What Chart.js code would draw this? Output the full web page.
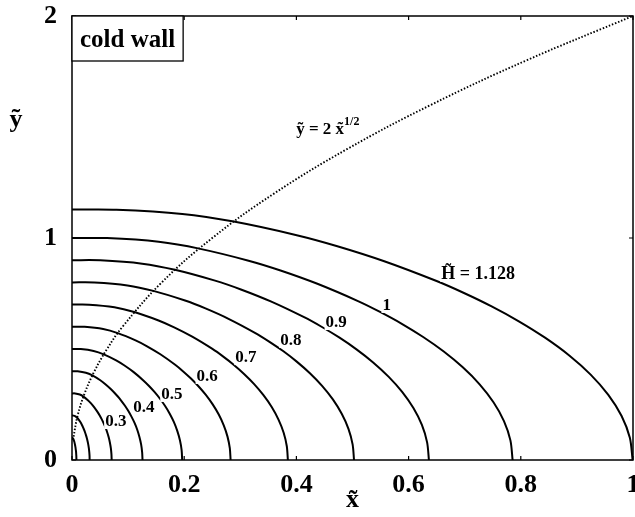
<!DOCTYPE html>
<html>
<head>
<meta charset="utf-8">
<script src="https://cdn.jsdelivr.net/npm/chart.js@4.4.1/dist/chart.umd.min.js"></script>
<style>
  html, body { margin: 0; padding: 0; background: #fff; }
  #wrap { width: 635px; height: 517px; position: relative; }
</style>
</head>
<body>
<div id="wrap"><canvas id="c" width="635" height="517"></canvas></div>
<script>
// Contour levels (H~) and their curves
const levels = [1.128, 1, 0.9, 0.8, 0.7, 0.6, 0.5, 0.4, 0.3, 0.2, 0.1];

const x_1128 = [0, 0.0794, 0.1966, 0.2883, 0.4006, 0.4730, 0.5566, 0.6499, 0.6987, 0.7480, 0.7965, 0.8432, 0.8864, 0.9245, 0.9560, 0.9797, 0.9944, 0.9993];
const y_1128 = [1.128, 1.1274, 1.1086, 1.0740, 1.0126, 0.9629, 0.8953, 0.8062, 0.7523, 0.6919, 0.6248, 0.5509, 0.4707, 0.3846, 0.2933, 0.1980, 0.0997, 0];

const x_100 = [0, 0.0624, 0.1545, 0.2266, 0.3148, 0.3717, 0.4374, 0.5108, 0.5491, 0.5879, 0.6260, 0.6627, 0.6966, 0.7266, 0.7513, 0.7700, 0.7815, 0.7854];
const y_100 = [1, 0.9995, 0.9828, 0.9521, 0.8977, 0.8536, 0.7937, 0.7147, 0.6669, 0.6134, 0.5539, 0.4884, 0.4173, 0.3410, 0.2600, 0.1755, 0.0884, 0];

const x_090 = [0, 0.0505, 0.1251, 0.1835, 0.2550, 0.3011, 0.3543, 0.4137, 0.4448, 0.4762, 0.5071, 0.5368, 0.5642, 0.5885, 0.6086, 0.6237, 0.6330, 0.6362];
const y_090 = [0.9, 0.8996, 0.8845, 0.8569, 0.8079, 0.7682, 0.7143, 0.6432, 0.6002, 0.5521, 0.4985, 0.4396, 0.3756, 0.3069, 0.2340, 0.1580, 0.0796, 0];

const x_080 = [0, 0.0399, 0.0989, 0.1450, 0.2015, 0.2379, 0.2799, 0.3269, 0.3514, 0.3763, 0.4006, 0.4241, 0.4458, 0.4650, 0.4808, 0.4928, 0.5002, 0.5027];
const y_080 = [0.8, 0.7996, 0.7862, 0.7617, 0.7182, 0.6829, 0.6350, 0.5718, 0.5335, 0.4907, 0.4431, 0.3907, 0.3338, 0.2728, 0.2080, 0.1404, 0.0707, 0];

const x_070 = [0, 0.0306, 0.0757, 0.1110, 0.1543, 0.1821, 0.2143, 0.2503, 0.2691, 0.2881, 0.3067, 0.3247, 0.3413, 0.3560, 0.3681, 0.3773, 0.3829, 0.3848];
const y_070 = [0.7, 0.6997, 0.6880, 0.6665, 0.6284, 0.5975, 0.5556, 0.5003, 0.4668, 0.4294, 0.3877, 0.3419, 0.2921, 0.2387, 0.1820, 0.1229, 0.0619, 0];

const x_060 = [0, 0.0225, 0.0556, 0.0816, 0.1133, 0.1338, 0.1575, 0.1839, 0.1977, 0.2116, 0.2254, 0.2386, 0.2508, 0.2616, 0.2705, 0.2772, 0.2813, 0.2827];
const y_060 = [0.6, 0.5997, 0.5897, 0.5713, 0.5386, 0.5122, 0.4762, 0.4288, 0.4001, 0.3680, 0.3323, 0.2930, 0.2504, 0.2046, 0.1560, 0.1053, 0.0530, 0];

const x_050 = [0, 0.0156, 0.0386, 0.0567, 0.0787, 0.0929, 0.1094, 0.1277, 0.1373, 0.1470, 0.1565, 0.1657, 0.1742, 0.1817, 0.1878, 0.1925, 0.1954, 0.1964];
const y_050 = [0.5, 0.4998, 0.4914, 0.4761, 0.4489, 0.4268, 0.3969, 0.3574, 0.3335, 0.3067, 0.2770, 0.2442, 0.2087, 0.1705, 0.1300, 0.0878, 0.0442, 0];

const x_040 = [0, 0.0100, 0.0247, 0.0363, 0.0504, 0.0595, 0.0700, 0.0817, 0.0879, 0.0941, 0.1002, 0.1060, 0.1115, 0.1163, 0.1202, 0.1232, 0.1250, 0.1257];
const y_040 = [0.4, 0.3998, 0.3931, 0.3808, 0.3591, 0.3414, 0.3175, 0.2859, 0.2668, 0.2454, 0.2216, 0.1954, 0.1669, 0.1364, 0.1040, 0.0702, 0.0354, 0];

const x_030 = [0, 0.0056, 0.0139, 0.0204, 0.0283, 0.0335, 0.0394, 0.0460, 0.0494, 0.0529, 0.0563, 0.0596, 0.0627, 0.0654, 0.0676, 0.0693, 0.0703, 0.0707];
const y_030 = [0.3, 0.2999, 0.2948, 0.2856, 0.2693, 0.2561, 0.2381, 0.2144, 0.2001, 0.1840, 0.1662, 0.1465, 0.1252, 0.1023, 0.0780, 0.0527, 0.0265, 0];

const x_020 = [0, 0.0025, 0.0062, 0.0091, 0.0126, 0.0149, 0.0175, 0.0204, 0.0220, 0.0235, 0.0250, 0.0265, 0.0279, 0.0291, 0.0301, 0.0308, 0.0313, 0.0314];
const y_020 = [0.2, 0.1999, 0.1966, 0.1904, 0.1795, 0.1707, 0.1587, 0.1429, 0.1334, 0.1227, 0.1108, 0.0977, 0.0835, 0.0682, 0.0520, 0.0351, 0.0177, 0];

const x_010 = [0, 0.0006, 0.0015, 0.0023, 0.0031, 0.0037, 0.0044, 0.0051, 0.0055, 0.0059, 0.0063, 0.0066, 0.0070, 0.0073, 0.0075, 0.0077, 0.0078, 0.0079];
const y_010 = [0.1, 0.1, 0.0983, 0.0952, 0.0898, 0.0854, 0.0794, 0.0715, 0.0667, 0.0613, 0.0554, 0.0488, 0.0417, 0.0341, 0.0260, 0.0176, 0.0088, 0];

// Dotted boundary curve y~ = 2 x~^(1/2)
const x_dot = [0.002, 0.0025, 0.01, 0.0225, 0.04, 0.0625, 0.09, 0.16, 0.25, 0.36, 0.49, 0.64, 0.81, 1];
const y_dot = [0.09, 0.1, 0.2, 0.3, 0.4, 0.5, 0.6, 0.8, 1.0, 1.2, 1.4, 1.6, 1.8, 2.0];

// Ticks
const xTicks = [0, 0.2, 0.4, 0.6, 0.8, 1];
const xTickLabels = ['0', '0.2', '0.4', '0.6', '0.8', '1'];
const yTicks = [0, 1, 2];
const yTickLabels = ['0', '1', '2'];

// Contour labels: text and data position
const contourLabels = ['1', '0.9', '0.8', '0.7', '0.6', '0.5', '0.4', '0.3'];
const contourLabelX = [0.561, 0.471, 0.390, 0.310, 0.241, 0.178, 0.128, 0.078];
const contourLabelY = [0.694, 0.617, 0.536, 0.459, 0.374, 0.293, 0.234, 0.171];

const curveXs = [x_1128, x_100, x_090, x_080, x_070, x_060, x_050, x_040, x_030, x_020, x_010];
const curveYs = [y_1128, y_100, y_090, y_080, y_070, y_060, y_050, y_040, y_030, y_020, y_010];

const zip = (xs, ys) => xs.map((x, i) => ({x: x, y: ys[i]}));

const datasets = levels.map((h, k) => ({
  label: 'H=' + h,
  data: zip(curveXs[k], curveYs[k]),
  showLine: true,
  borderColor: '#000',
  borderWidth: 2,
  pointRadius: 0,
  tension: 0.3,
  fill: false
}));
datasets.push({
  label: 'y=2sqrt(x)',
  data: zip(x_dot, y_dot),
  showLine: true,
  borderColor: '#000',
  borderWidth: 1.9,
  borderDash: [1.5, 1.8],
  pointRadius: 0,
  tension: 0.4,
  fill: false
});

const FONT = '"Liberation Serif", "Times New Roman", serif';

const decor = {
  id: 'decor',
  afterDatasetsDraw(chart) {
    const ctx = chart.ctx;
    const a = chart.chartArea;
    const xs = chart.scales.x, ys = chart.scales.y;
    ctx.save();
    // frame
    ctx.strokeStyle = '#000';
    ctx.lineWidth = 1.5;
    ctx.strokeRect(a.left, a.top, a.right - a.left, a.bottom - a.top);
    // inward ticks
    ctx.lineWidth = 1.2;
    ctx.beginPath();
    xTicks.forEach(v => {
      const px = xs.getPixelForValue(v);
      ctx.moveTo(px, a.bottom); ctx.lineTo(px, a.bottom - 4);
      ctx.moveTo(px, a.top); ctx.lineTo(px, a.top + 4);
    });
    yTicks.forEach(v => {
      const py = ys.getPixelForValue(v);
      ctx.moveTo(a.left, py); ctx.lineTo(a.left + 4, py);
      ctx.moveTo(a.right, py); ctx.lineTo(a.right - 4, py);
    });
    ctx.stroke();

    // contour labels
    ctx.font = 'bold 17px ' + FONT;
    ctx.textAlign = 'center';
    ctx.textBaseline = 'middle';
    contourLabels.forEach((t, i) => {
      const px = xs.getPixelForValue(contourLabelX[i]);
      const py = ys.getPixelForValue(contourLabelY[i]);
      const w = ctx.measureText(t).width;
      ctx.fillStyle = '#fff';
      ctx.fillRect(px - w / 2 - 1, py - 7, w + 2, 14);
      ctx.fillStyle = '#000';
      ctx.fillText(t, px, py);
    });

    // H~ = 1.128 label
    {
      const t = 'H\u0303 = 1.128';
      ctx.font = 'bold 18px ' + FONT;
      const px = xs.getPixelForValue(0.724);
      const py = ys.getPixelForValue(0.838);
      const w = ctx.measureText(t).width;
      ctx.fillStyle = '#fff';
      ctx.fillRect(px - w / 2 - 1, py - 9, w + 2, 17);
      ctx.fillStyle = '#000';
      ctx.fillText(t, px, py);
    }

    // y~ = 2 x~^(1/2) label
    {
      const t = 'y\u0303 = 2 x\u0303';
      ctx.font = 'bold 17px ' + FONT;
      const w1 = ctx.measureText(t).width;
      ctx.font = 'bold 12px ' + FONT;
      const w2 = ctx.measureText('1/2').width;
      const cx = xs.getPixelForValue(0.456);
      const cy = ys.getPixelForValue(1.49);
      const left = cx - (w1 + w2) / 2;
      ctx.textAlign = 'left';
      ctx.font = 'bold 17px ' + FONT;
      ctx.fillText(t, left, cy);
      ctx.font = 'bold 12px ' + FONT;
      ctx.fillText('1/2', left + w1, cy - 7);
    }

    // cold wall box
    {
      const x0 = a.left, y0 = a.top;
      ctx.font = 'bold 25px ' + FONT;
      ctx.textAlign = 'left';
      ctx.textBaseline = 'alphabetic';
      const w = ctx.measureText('cold wall').width;
      ctx.fillStyle = '#fff';
      ctx.fillRect(x0, y0, w + 16, 45);
      ctx.strokeStyle = '#000';
      ctx.lineWidth = 1.3;
      ctx.strokeRect(x0, y0, w + 16, 45);
      ctx.fillStyle = '#000';
      ctx.fillText('cold wall', x0 + 8, y0 + 31);
    }

    // axis titles (upright)
    ctx.font = 'bold 26px ' + FONT;
    ctx.textAlign = 'center';
    ctx.textBaseline = 'middle';
    ctx.fillText('x\u0303', (a.left + a.right) / 2, 500);
    ctx.fillText('y\u0303', 16, ys.getPixelForValue(1.53));
    ctx.restore();
  }
};

new Chart(document.getElementById('c'), {
  type: 'scatter',
  data: { datasets: datasets },
  options: {
    responsive: false,
    animation: false,
    layout: { padding: { top: 16, right: 2, left: 0, bottom: 0 } },
    plugins: { legend: { display: false }, tooltip: { enabled: false } },
    scales: {
      x: {
        type: 'linear', min: 0, max: 1,
        grid: { display: false, drawTicks: false },
        border: { display: false },
        afterBuildTicks: s => { s.ticks = xTicks.map(v => ({value: v})); },
        ticks: {
          padding: 10,
          color: '#000',
          font: { family: FONT, size: 26, weight: 'bold' },
          callback: (v, i) => xTickLabels[xTicks.indexOf(v)],
          maxRotation: 0, autoSkip: false
        },
        afterFit: s => { s.height = 57; s.paddingLeft = 0; s.paddingRight = 0; }
      },
      y: {
        type: 'linear', min: 0, max: 2,
        grid: { display: false, drawTicks: false },
        border: { display: false },
        afterBuildTicks: s => { s.ticks = yTicks.map(v => ({value: v})); },
        ticks: {
          padding: 15,
          color: '#000',
          font: { family: FONT, size: 26, weight: 'bold' },
          callback: (v) => yTickLabels[yTicks.indexOf(v)],
          autoSkip: false
        },
        afterFit: s => { s.width = 72; s.paddingTop = 0; s.paddingBottom = 0; }
      }
    }
  },
  plugins: [decor]
});
</script>
</body>
</html>
